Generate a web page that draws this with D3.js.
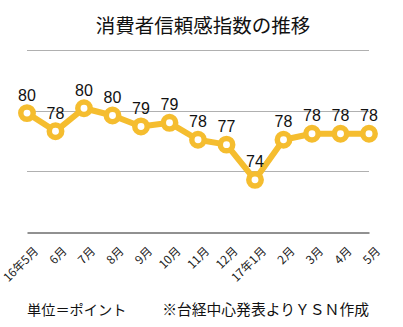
<!DOCTYPE html>
<html>
<head>
<meta charset="utf-8">
<script src="https://cdn.jsdelivr.net/npm/d3@7"></script>
<style>
  html, body { margin: 0; padding: 0; background: #fff; }
  svg { display: block; }
  .cjk { font-family: "Noto Sans CJK JP", "Noto Sans", sans-serif; }
  .num { font-family: "Liberation Sans", Arial, sans-serif; }
</style>
</head>
<body>
<svg id="chart" width="403" height="327"></svg>
<script>
// Monthly consumer confidence index (points)
const months = ["16年5月", "6月", "7月", "8月", "9月", "10月", "11月", "12月",
                "17年1月", "2月", "3月", "4月", "5月"];
const index = [79.8, 78.3, 80.2, 79.6, 78.7, 79.0, 77.6, 77.2, 74.3, 77.6, 78.1, 78.1, 78.1];
const yTicks = [70, 75, 80, 85];

const svg = d3.select("#chart");
const plotLeft = 27, plotRight = 369, plotTop = 50, plotBottom = 232;
const gold = "#F5BD2F";

const x = d3.scalePoint().domain(months).range([plotLeft, plotRight]).padding(0);
const y = d3.scaleLinear().domain([70, 85]).range([plotBottom, plotTop]);

// title
svg.append("text").attr("class", "cjk")
  .attr("x", 203).attr("y", 33)
  .attr("text-anchor", "middle")
  .attr("font-size", 19.5).attr("fill", "#111")
  .text("消費者信頼感指数の推移");

// horizontal gridlines (top one doubles as the title rule)
svg.append("g")
  .selectAll("line").data(yTicks.filter(v => v > 70)).join("line")
  .attr("x1", plotLeft).attr("x2", plotRight)
  .attr("y1", d => Math.round(y(d)) + 0.5).attr("y2", d => Math.round(y(d)) + 0.5)
  .attr("stroke", "#b0b0b0").attr("stroke-width", 1);

// baseline with rotated month labels
const xAxis = d3.axisBottom(x).tickSize(0).tickPadding(0);
const gx = svg.append("g")
  .attr("transform", `translate(0,${Math.round(y(70)) + 0.5})`)
  .call(xAxis);
gx.select(".domain").attr("stroke", "#222").attr("stroke-width", 1);
gx.selectAll("text")
  .attr("class", "cjk")
  .attr("font-size", 11.8).attr("fill", "#222")
  .attr("text-anchor", "end")
  .attr("x", 0).attr("y", 0).attr("dy", 0)
  .attr("transform", "translate(11.5,19.5) rotate(-45)");

// line
svg.append("path")
  .datum(index)
  .attr("fill", "none")
  .attr("stroke", gold)
  .attr("stroke-width", 6)
  .attr("stroke-linejoin", "round")
  .attr("d", d3.line().x((d, i) => x(months[i])).y(d => y(d)));

// markers
svg.append("g")
  .selectAll("circle").data(index).join("circle")
  .attr("cx", (d, i) => x(months[i]))
  .attr("cy", d => y(d))
  .attr("r", 6.2)
  .attr("fill", "#fff")
  .attr("stroke", gold)
  .attr("stroke-width", 5.5);

// value labels
svg.append("g")
  .selectAll("text").data(index).join("text")
  .attr("class", "num")
  .attr("x", (d, i) => x(months[i]))
  .attr("y", d => y(d) - 12.5)
  .attr("text-anchor", "middle")
  .attr("font-size", 16).attr("fill", "#111")
  .text(d => d3.format(".0f")(d));

// footnotes
svg.append("text").attr("class", "cjk")
  .attr("x", 27).attr("y", 315)
  .attr("font-size", 14.2).attr("fill", "#111")
  .text("単位＝ポイント");
svg.append("text").attr("class", "cjk")
  .attr("x", 369).attr("y", 315)
  .attr("text-anchor", "end")
  .attr("font-size", 14.8).attr("fill", "#111")
  .text("※台経中心発表よりＹＳＮ作成");
</script>
</body>
</html>
